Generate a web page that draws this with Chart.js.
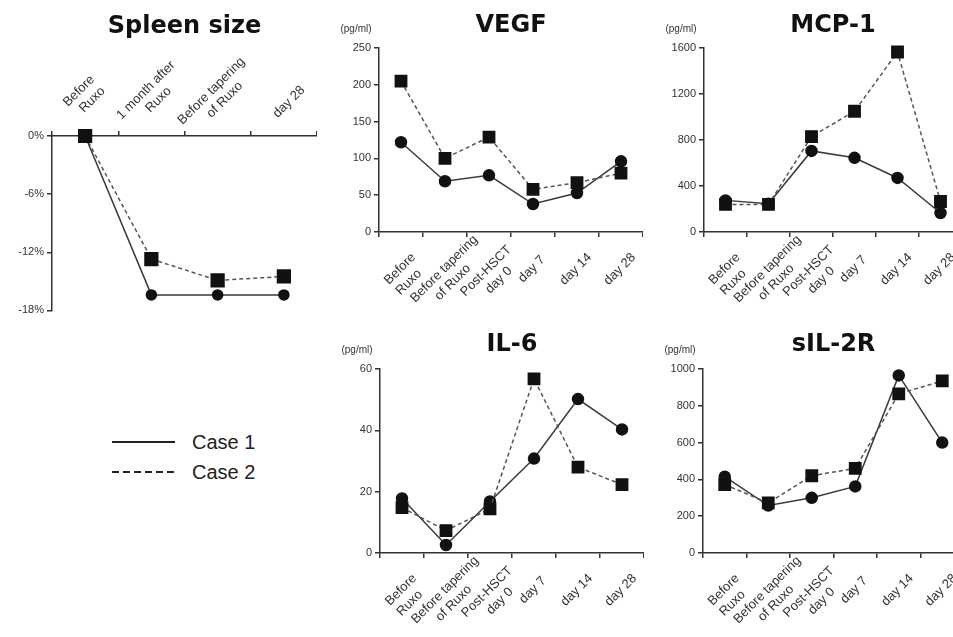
<!DOCTYPE html>
<html>
<head>
<meta charset="utf-8">
<script src="https://cdn.jsdelivr.net/npm/chart.js@4"></script>
<style>
  html, body { margin: 0; padding: 0; width: 953px; height: 637px; overflow: hidden; background: #fff; }
  canvas { position: absolute; }
  .lg { position: absolute; font: 20px Arial, "Liberation Sans", sans-serif; color: #222; line-height: 24px; }
  .lgline { position: absolute; }
</style>
</head>
<body>
<canvas id="spleen" width="317" height="320" style="left:0;top:0"></canvas>
<canvas id="vegf" width="323" height="320" style="left:320px;top:0"></canvas>
<canvas id="mcp1" width="322" height="320" style="left:640px;top:0"></canvas>
<canvas id="il6" width="324" height="317" style="left:320px;top:320px"></canvas>
<canvas id="sil2r" width="324" height="317" style="left:640px;top:320px"></canvas>

<svg class="lgline" width="66" height="6" style="left:111px;top:439px"><line x1="1" y1="3" x2="64" y2="3" stroke="#222" stroke-width="2"/></svg>
<div class="lg" style="left:192px;top:430px">Case 1</div>
<svg class="lgline" width="66" height="6" style="left:111px;top:469px"><line x1="1" y1="3" x2="64" y2="3" stroke="#222" stroke-width="2" stroke-dasharray="7,4"/></svg>
<div class="lg" style="left:192px;top:460px">Case 2</div>

<script>
// categories
var spleenLabels = [['Before', 'Ruxo'], ['1 month after', 'Ruxo'], ['Before tapering', 'of Ruxo'], 'day 28'];
var timeLabels = [['Before', 'Ruxo'], ['Before tapering', 'of Ruxo'], ['Post-HSCT', 'day 0'], 'day 7', 'day 14', 'day 28'];

// spleen size change (%)
var spleenCase1 = [0, -16.4, -16.4, -16.4];
var spleenCase2 = [0, -12.7, -14.9, -14.5];
var spleenTicks = [-18, -12, -6, 0];

// cytokines (pg/ml)
var vegfCase1 = [122, 69, 77, 38, 53, 96];
var vegfCase2 = [205, 100, 129, 58, 67, 80];
var vegfTicks = [0, 50, 100, 150, 200, 250];

var mcp1Case1 = [275, 245, 705, 645, 470, 165];
var mcp1Case2 = [240, 240, 830, 1050, 1565, 265];
var mcp1Ticks = [0, 400, 800, 1200, 1600];

var il6Case1 = [17.8, 2.6, 16.8, 30.8, 50.2, 40.3];
var il6Case2 = [14.8, 7.3, 14.4, 56.8, 28, 22.3];
var il6Ticks = [0, 20, 40, 60];

var sil2rCase1 = [415, 258, 300, 362, 965, 600];
var sil2rCase2 = [372, 272, 420, 460, 865, 935];
var sil2rTicks = [0, 200, 400, 600, 800, 1000];

var fontFamily = 'Arial, "Liberation Sans", sans-serif';
var tickFont = { family: fontFamily, size: 11 };
var xFont = { family: fontFamily, size: 13 };
var axisColor = '#333';
var labelHalf = 46; // half width of the box every rotated label is centred in

// rotated labels are right/left aligned in Chart.js, pad them with spaces
// so every line is centred on the same spot like in the original figure
var measureCtx = document.createElement('canvas').getContext('2d');
function centredLines(label, leading) {
    measureCtx.font = xFont.size + 'px ' + fontFamily;
    var sp = measureCtx.measureText(' ').width;
    var lines = Array.isArray(label) ? label : [label];
    return lines.map(function (line) {
        var n = Math.max(0, Math.round((labelHalf - measureCtx.measureText(line).width / 2) / sp));
        var pad = ' '.repeat(n);
        return leading ? pad + line : line + pad;
    });
}

// "(pg/ml)" above the y axis
var unitLabel = {
    id: 'unitLabel',
    afterDraw: function (chart, args, opts) {
        if (!opts.text) return;
        var ctx = chart.ctx, area = chart.chartArea;
        ctx.save();
        ctx.font = '10px ' + fontFamily;
        ctx.fillStyle = '#333';
        ctx.textAlign = 'center';
        ctx.textBaseline = 'middle';
        ctx.fillText(opts.text, area.left - 23, area.top - 19);
        ctx.restore();
    }
};

function caseSets(d1, d2, circleR, squareR) {
    return [{
        label: 'Case 1',
        data: d1,
        borderColor: '#3a3a3a',
        borderWidth: 1.5,
        pointStyle: 'circle',
        pointRadius: circleR,
        pointBackgroundColor: '#111',
        pointBorderColor: '#111',
        order: 1,
        clip: false
    }, {
        label: 'Case 2',
        data: d2,
        borderColor: '#555',
        borderWidth: 1.5,
        borderDash: [4, 3],
        pointStyle: 'rect',
        pointRadius: squareR,
        pointBackgroundColor: '#111',
        pointBorderColor: '#111',
        order: 0,
        clip: false
    }];
}

function makeChart(id, cfg) {
    var onTop = cfg.xPos === 'top';
    return new Chart(document.getElementById(id).getContext('2d'), {
        type: 'line',
        data: {
            labels: cfg.labels,
            datasets: caseSets(cfg.case1, cfg.case2, cfg.circleR, cfg.squareR)
        },
        options: {
            responsive: false,
            animation: false,
            layout: { autoPadding: false, padding: { bottom: cfg.padBottom || 0 } },
            scales: {
                x: {
                    position: cfg.xPos,
                    offset: true,
                    grid: { offset: true, drawOnChartArea: false, tickLength: 5, color: axisColor, lineWidth: 1.5 },
                    border: { color: axisColor, width: 1.5 },
                    ticks: {
                        autoSkip: false, minRotation: 45, maxRotation: 45,
                        font: xFont, color: '#333', padding: cfg.xPad, labelOffset: cfg.xShift,
                        callback: function (value) { return centredLines(this.getLabelForValue(value), onTop); }
                    },
                    afterFit: function (s) {
                        s.height = cfg.xHeight;
                        s.paddingLeft = 0;
                        s.paddingRight = 0;
                    }
                },
                y: {
                    min: cfg.ticks[0],
                    max: cfg.ticks[cfg.ticks.length - 1],
                    grid: { drawOnChartArea: false, tickLength: 5, color: axisColor, lineWidth: 1.5 },
                    border: { color: axisColor, width: 1.5 },
                    ticks: {
                        font: tickFont, color: '#333', padding: 3,
                        callback: function (value) { return value + (cfg.suffix || ''); }
                    },
                    afterBuildTicks: function (s) { s.ticks = cfg.ticks.map(function (v) { return { value: v }; }); },
                    afterFit: function (s) { s.width = cfg.yWidth; }
                }
            },
            plugins: {
                legend: { display: false },
                tooltip: { enabled: false },
                title: {
                    display: true,
                    text: cfg.title,
                    fullSize: false,
                    color: '#111',
                    font: { family: '"DejaVu Sans", sans-serif', size: 24, weight: 'bold' },
                    padding: { top: cfg.titleTop, bottom: cfg.titleBottom }
                },
                unitLabel: { text: cfg.unit }
            }
        },
        plugins: [unitLabel]
    });
}

// spleen size, x axis on top
makeChart('spleen', {
    labels: spleenLabels, case1: spleenCase1, case2: spleenCase2, ticks: spleenTicks, suffix: '%',
    title: 'Spleen size', titleTop: 12, titleBottom: 0, xPos: 'top', xHeight: 95.2, xPad: -8, xShift: -15.5,
    yWidth: 52, padBottom: 9, circleR: 5, squareR: 9
});

// top row
makeChart('vegf', {
    labels: timeLabels, case1: vegfCase1, case2: vegfCase2, ticks: vegfTicks, unit: '(pg/ml)',
    title: 'VEGF', titleTop: 11, titleBottom: 8.2, xPos: 'bottom', xHeight: 88, xPad: -5, xShift: 30.5,
    yWidth: 59, circleR: 5.5, squareR: 8
});
makeChart('mcp1', {
    labels: timeLabels, case1: mcp1Case1, case2: mcp1Case2, ticks: mcp1Ticks, unit: '(pg/ml)',
    title: 'MCP-1', titleTop: 11, titleBottom: 8.2, xPos: 'bottom', xHeight: 88, xPad: -5, xShift: 30.5,
    yWidth: 64, circleR: 5.5, squareR: 8
});

// bottom row
makeChart('il6', {
    labels: timeLabels, case1: il6Case1, case2: il6Case2, ticks: il6Ticks, unit: '(pg/ml)',
    title: 'IL-6', titleTop: 10.5, titleBottom: 9.7, xPos: 'bottom', xHeight: 84, xPad: -5, xShift: 30.5,
    yWidth: 60, circleR: 5.5, squareR: 8
});
makeChart('sil2r', {
    labels: timeLabels, case1: sil2rCase1, case2: sil2rCase2, ticks: sil2rTicks, unit: '(pg/ml)',
    title: 'sIL-2R', titleTop: 10.5, titleBottom: 9.7, xPos: 'bottom', xHeight: 84, xPad: -5, xShift: 30.5,
    yWidth: 63, circleR: 5.5, squareR: 8
});
</script>
</body>
</html>
